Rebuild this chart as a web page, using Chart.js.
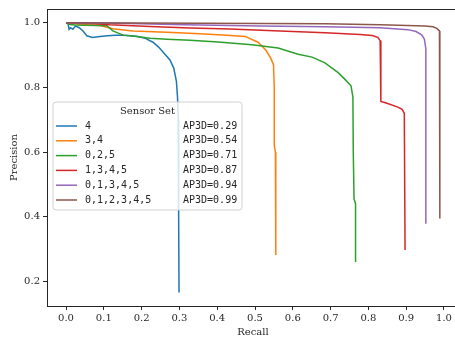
<!DOCTYPE html>
<html>
<head>
<meta charset="utf-8">
<script src="https://cdn.jsdelivr.net/npm/chart.js@4.4.1/dist/chart.umd.min.js"></script>
<style>
html,body{margin:0;padding:0;background:#fff;overflow:hidden;}
#wrap{width:470px;height:340px;}
</style>
</head>
<body>
<div id="wrap"><canvas id="c" width="470" height="340"></canvas></div>
<script>
// ---- data ----
const seriesLabels = ["4", "3,4", "0,2,5", "1,3,4,5", "0,1,3,4,5", "0,1,2,3,4,5"];
const apLabels = ["AP3D=0.29", "AP3D=0.54", "AP3D=0.71", "AP3D=0.87", "AP3D=0.94", "AP3D=0.99"];
const colors = ["#1f77b4", "#ff7f0e", "#2ca02c", "#d62728", "#9467bd", "#8c564b"];

const recall4 = [0.0, 0.005, 0.008, 0.012, 0.018, 0.025, 0.035, 0.045, 0.055, 0.07, 0.09, 0.11, 0.13, 0.15, 0.17, 0.19, 0.21, 0.23, 0.245, 0.26, 0.275, 0.285, 0.292, 0.295, 0.297, 0.298, 0.299];
const prec4   = [1.0, 1.0, 0.98, 0.985, 0.98, 0.99, 0.985, 0.975, 0.96, 0.955, 0.958, 0.96, 0.962, 0.962, 0.96, 0.958, 0.952, 0.94, 0.925, 0.905, 0.885, 0.86, 0.82, 0.77, 0.7, 0.4, 0.165];

const recall34 = [0.0, 0.024, 0.037, 0.09, 0.124, 0.177, 0.267, 0.354, 0.426, 0.474, 0.508, 0.529, 0.542, 0.549, 0.551, 0.551, 0.554, 0.555];
const prec34   = [1.0, 0.998, 0.995, 0.992, 0.982, 0.975, 0.971, 0.966, 0.962, 0.958, 0.94, 0.915, 0.89, 0.87, 0.80, 0.62, 0.60, 0.281];

const recall025 = [0.0, 0.011, 0.024, 0.108, 0.124, 0.151, 0.177, 0.222, 0.267, 0.328, 0.402, 0.492, 0.561, 0.614, 0.651, 0.685, 0.72, 0.738, 0.754, 0.759, 0.76, 0.762, 0.766, 0.766];
const prec025   = [1.0, 0.995, 0.993, 0.991, 0.975, 0.962, 0.959, 0.952, 0.949, 0.946, 0.941, 0.932, 0.922, 0.903, 0.894, 0.876, 0.846, 0.825, 0.805, 0.77, 0.60, 0.455, 0.44, 0.26];

const recall1345 = [0.0, 0.063, 0.116, 0.222, 0.328, 0.434, 0.566, 0.685, 0.778, 0.81, 0.825, 0.831, 0.833, 0.833, 0.847, 0.878, 0.889, 0.895, 0.897];
const prec1345   = [1.0, 0.998, 0.994, 0.989, 0.984, 0.981, 0.975, 0.969, 0.964, 0.961, 0.955, 0.945, 0.93, 0.757, 0.752, 0.739, 0.732, 0.72, 0.297];

const recall01345 = [0.0, 0.169, 0.315, 0.513, 0.685, 0.831, 0.905, 0.926, 0.941, 0.948, 0.952, 0.952];
const prec01345   = [1.0, 0.998, 0.994, 0.99, 0.988, 0.985, 0.979, 0.973, 0.963, 0.95, 0.92, 0.378];

const recall012345 = [0.0, 0.354, 0.685, 0.831, 0.95, 0.971, 0.981, 0.988, 0.989, 0.989];
const prec012345   = [1.0, 0.999, 0.997, 0.994, 0.99, 0.988, 0.983, 0.975, 0.94, 0.394];

const xTicks = [0.0, 0.1, 0.2, 0.3, 0.4, 0.5, 0.6, 0.7, 0.8, 0.9, 1.0];
const yTicks = [0.2, 0.4, 0.6, 0.8, 1.0];

// ---- build chart ----
const allRecall = [recall4, recall34, recall025, recall1345, recall01345, recall012345];
const allPrec = [prec4, prec34, prec025, prec1345, prec01345, prec012345];

const datasets = allRecall.map((r, i) => ({
  label: seriesLabels[i],
  data: r.map((x, j) => ({x: x, y: allPrec[i][j]})),
  borderColor: colors[i],
  backgroundColor: colors[i],
  borderWidth: 1.5,
  pointRadius: 0,
  tension: 0,
  fill: false,
  order: 5 - i
}));

const SERIF = "'DejaVu Serif', serif";
const MONO = "'DejaVu Sans Mono', monospace";
const INK = '#262626';

const framePlugin = {
  id: 'frame',
  afterDraw(chart) {
    const {ctx, chartArea: a} = chart;
    ctx.save();
    ctx.strokeStyle = INK;
    ctx.lineWidth = 1;
    ctx.beginPath();
    ctx.moveTo(a.left, a.top + 0.5);
    ctx.lineTo(a.right, a.top + 0.5);
    ctx.moveTo(a.right - 0.5, a.top);
    ctx.lineTo(a.right - 0.5, a.bottom);
    ctx.stroke();
    ctx.restore();
  }
};

const legendPlugin = {
  id: 'mplLegend',
  afterDraw(chart) {
    const ctx = chart.ctx;
    const x0 = 53, y0 = 102, w = 189, h = 108, r = 3;
    ctx.save();
    ctx.beginPath();
    ctx.moveTo(x0 + r, y0);
    ctx.lineTo(x0 + w - r, y0);
    ctx.quadraticCurveTo(x0 + w, y0, x0 + w, y0 + r);
    ctx.lineTo(x0 + w, y0 + h - r);
    ctx.quadraticCurveTo(x0 + w, y0 + h, x0 + w - r, y0 + h);
    ctx.lineTo(x0 + r, y0 + h);
    ctx.quadraticCurveTo(x0, y0 + h, x0, y0 + h - r);
    ctx.lineTo(x0, y0 + r);
    ctx.quadraticCurveTo(x0, y0, x0 + r, y0);
    ctx.closePath();
    ctx.fillStyle = 'rgba(255,255,255,0.8)';
    ctx.fill();
    ctx.strokeStyle = '#d0d0d0';
    ctx.lineWidth = 1;
    ctx.stroke();

    ctx.fillStyle = INK;
    ctx.textBaseline = 'middle';
    ctx.textAlign = 'center';
    ctx.font = "10px " + SERIF;
    ctx.fillText('Sensor Set', x0 + w / 2, 111);

    ctx.textAlign = 'left';
    ctx.font = "10px " + MONO;
    for (let i = 0; i < seriesLabels.length; i++) {
      const y = 126 + i * 14.8;
      ctx.strokeStyle = colors[i];
      ctx.lineWidth = 1.5;
      ctx.beginPath();
      ctx.moveTo(56, y);
      ctx.lineTo(77, y);
      ctx.stroke();
      ctx.fillStyle = INK;
      ctx.fillText(seriesLabels[i], 85, y);
      ctx.fillText(apLabels[i], 183, y);
    }
    ctx.restore();
  }
};

new Chart(document.getElementById('c'), {
  type: 'line',
  data: {datasets},
  options: {
    responsive: false,
    animation: false,
    devicePixelRatio: 1,
    layout: {padding: {left: 0, top: 6, right: 11, bottom: 0}},
    plugins: {legend: {display: false}, tooltip: {enabled: false}},
    scales: {
      x: {
        type: 'linear',
        min: -0.0503,
        max: 1.0397,
        afterFit(s) { s.height = 34; },
        afterBuildTicks(s) { s.ticks = xTicks.map(v => ({value: v})); },
        grid: {drawOnChartArea: false, drawTicks: true, tickLength: 4, color: INK, tickWidth: 1},
        border: {color: INK, width: 1},
        ticks: {color: INK, padding: 2, font: {family: SERIF, size: 10}, maxRotation: 0, callback: v => Number(v).toFixed(1)},
        title: {display: true, text: 'Recall', color: INK, font: {family: SERIF, size: 10}, padding: {top: 0, bottom: 2}}
      },
      y: {
        type: 'linear',
        min: 0.1234,
        max: 1.0429,
        afterFit(s) { s.width = 47; },
        afterBuildTicks(s) { s.ticks = yTicks.map(v => ({value: v})); },
        grid: {drawOnChartArea: false, drawTicks: true, tickLength: 4, color: INK, tickWidth: 1},
        border: {color: INK, width: 1},
        ticks: {color: INK, padding: 3, font: {family: SERIF, size: 10}, callback: v => Number(v).toFixed(1)},
        title: {display: true, text: 'Precision', color: INK, font: {family: SERIF, size: 10}, padding: {top: 8, bottom: 0}}
      }
    }
  },
  plugins: [framePlugin, legendPlugin]
});
</script>
</body>
</html>
